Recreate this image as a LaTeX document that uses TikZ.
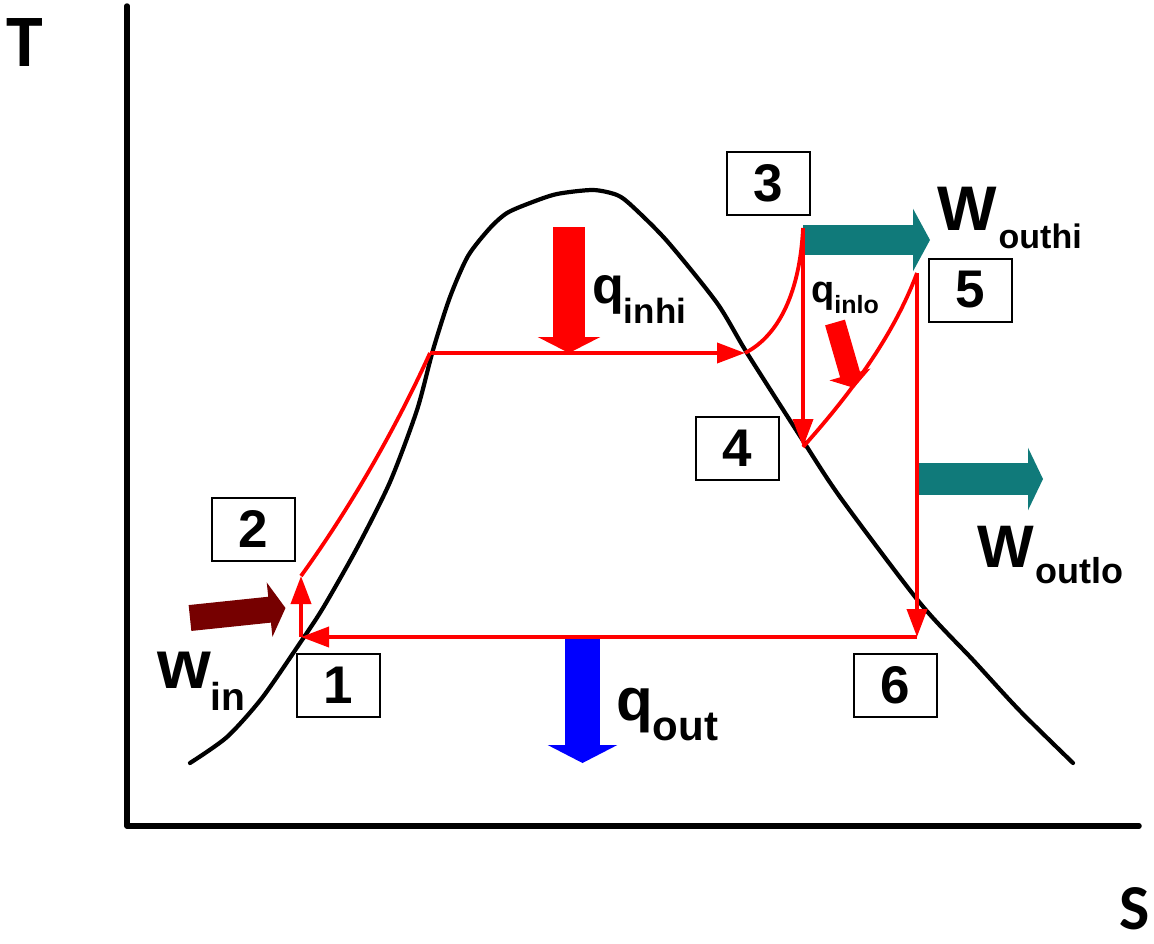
\documentclass[tikz,border=0pt]{standalone}
\usepackage{fontspec}
\setmainfont{Liberation Sans}
\newfontfamily\calib{Carlito}
\usetikzlibrary{arrows.meta}
\definecolor{cyred}{RGB}{255,0,0}
\definecolor{wteal}{RGB}{16,122,122}
\definecolor{wmaroon}{RGB}{118,0,0}
\definecolor{qblue}{RGB}{0,0,255}
\newcommand{\fs}[1]{\fontsize{#1}{#1}\selectfont}
\begin{document}
\begin{tikzpicture}[x=1pt,y=-1pt,
  cyc/.style={draw=cyred, line width=3.8pt, line join=round},
  cycarrow/.style={cyc, -{Triangle[length=28pt,width=20pt]}},
  numbox/.style={draw, line width=2pt, minimum width=83pt, minimum height=63pt, inner sep=0pt, font=\fs{53}\bfseries},
  lbl/.style={anchor=base west, inner sep=0pt, font=\bfseries},
  blk/.style={line cap=butt}
]
\useasboundingbox (0,0) rectangle (1154,943);

% axes
\coordinate (otop) at (127,6);
\coordinate (orig) at (127,826);
\coordinate (xend) at (1139,826);
\draw[line width=5.5pt, line cap=round, line join=round] (otop) -- (orig) -- (xend);
\node[anchor=base, inner sep=0pt, font=\calib\bfseries\fs{74}] (T) at (25,66) {T};
\node[anchor=base, inner sep=0pt, font=\calib\bfseries\fs{64}] (S) at (1135,929) {S};

% saturation dome
\draw[line width=4.2pt, line cap=round, line join=round] plot[smooth, tension=0.45] coordinates {
 (190,763) (227,737) (262,698) (300,643) (323,608) (357,548) (390,482) (417,410)
 (433,350) (450,297) (468,256) (490,228) (507,213) (530,203)
 (557,194) (593,190) (617,195) (632,206) (667,241) (717,303) (747,353)
 (800,436) (840,497) (920,603) (973,660) (1020,711) (1073,763)};

% cycle points
\coordinate (p1) at (301,637);
\coordinate (p2) at (301,576);
\coordinate (sf) at (430,353);
\coordinate (sg) at (745,353);
\coordinate (p3) at (803,228);
\coordinate (p4) at (803,447);
\coordinate (p5) at (917,273);
\coordinate (p6) at (917,637);

% block arrows
\coordinate (wohA) at (803,240);
\coordinate (wohB) at (930,240);
\coordinate (wolA) at (918,479);
\coordinate (wolB) at (1043,479);
\coordinate (qhA) at (569,227);
\coordinate (qhB) at (569,353);
\coordinate (qoA) at (582.5,637);
\coordinate (qoB) at (582.5,763);
\coordinate (wiA) at (190,618);
\coordinate (wiB) at (285.5,608);
\coordinate (qlA) at (835,322.5);
\coordinate (qlB) at (853.9,387.9);
\draw[blk, wteal, line width=30pt, -{Triangle[length=17pt,width=62pt]}] (wohA) -- (wohB);
\draw[blk, wteal, line width=32pt, -{Triangle[length=15pt,width=62pt]}] (wolA) -- (wolB);
\draw[blk, cyred, line width=32pt, -{Triangle[length=16pt,width=62pt]}] (qhA) -- (qhB);
\draw[blk, qblue, line width=35pt, -{Triangle[length=18pt,width=69pt]}] (qoA) -- (qoB);
\draw[blk, wmaroon, line width=26pt, -{Triangle[length=16pt,width=54pt]}] (wiA) -- (wiB);
\draw[blk, cyred, line width=20.6pt, -{Triangle[length=14pt,width=42pt]}] (qlA) -- (qlB);

% red cycle
\draw[cycarrow] (p1) -- (p2);
\draw[cyc] (p2) .. controls (350,508) and (395,430) .. (sf);
\draw[cycarrow] (sf) -- (sg);
\draw[cyc] (sg) .. controls (780,335) and (800,290) .. (p3);
\draw[cycarrow] (p3) -- (p4);
\draw[cyc] (p4) .. controls (845,400) and (892,340) .. (p5);
\draw[cycarrow] (p5) -- (p6);
\draw[cycarrow] (p6) -- (p1);

% state boxes
\node[numbox] (n1) at (338.5,685) {1};
\node[numbox] (n2) at (253.5,529) {2};
\node[numbox] (n3) at (768.5,183) {3};
\node[numbox] (n4) at (737,448.5) {4};
\node[numbox] (n5) at (970.5,290) {5};
\node[numbox] (n6) at (895,685.5) {6};

% labels
\node[lbl] (woh) at (937,230) {\fs{63}W\kern2pt\raisebox{-18pt}{\fs{34}outhi}};
\node[lbl] (wol) at (977,567) {\fs{60}W\kern2pt\raisebox{-16pt}{\fs{36}outlo}};
\node[lbl] (qinhi) at (592,303) {\fs{52}q\raisebox{-20pt}{\fs{35}inhi}};
\node[lbl] (qout) at (616,720) {\fs{60}q\raisebox{-20pt}{\fs{42}out}};
\node[lbl] (win) at (157,688) {\fs{69}w\raisebox{-22pt}{\fs{39}in}};
\node[lbl] (qinlo) at (811,302) {\fs{38}q\raisebox{-11pt}{\fs{25}inlo}};
\end{tikzpicture}
\end{document}
